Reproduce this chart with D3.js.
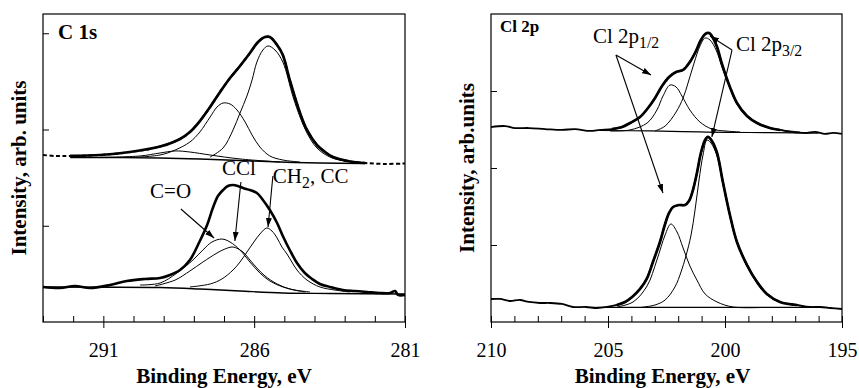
<!DOCTYPE html>
<html>
<head>
<meta charset="utf-8">
<script src="https://cdn.jsdelivr.net/npm/d3@7"></script>
<style>
  body { margin: 0; background: #fff; }
  svg text { font-family: "Liberation Serif", "Times New Roman", serif; fill: #000; }
</style>
</head>
<body>
<svg id="chart" width="859" height="388"></svg>
<script>
// ---- C 1s spectra: [binding energy (eV), intensity (arb. units)] ----
const c1sUpperMeasured = [
  [293.00,1.735],[292.60,1.725],[292.10,1.725],[291.11,1.735],[290.12,1.766],[289.12,1.823],
  [288.46,1.901],[288.13,1.974],[287.80,2.088],[287.46,2.234],[287.13,2.390],[286.80,2.535],
  [286.47,2.660],[286.14,2.795],[285.87,2.909],[285.64,2.961],[285.48,2.961],[285.24,2.878],
  [285.05,2.774],[284.82,2.514],[284.48,2.171],[284.25,1.995],[283.92,1.839],[283.65,1.766],
  [283.39,1.714],[282.82,1.668],[282.32,1.652],[281.66,1.642],[281.00,1.647]
];
const c1sUpperBackground = [
  [292.10,1.709],[289.12,1.704],[287.80,1.694],[286.47,1.678],[285.14,1.662],[283.82,1.652],[282.32,1.647]
];
const c1sUpperCO = [
  [291.11,1.712],[289.78,1.725],[289.12,1.756],[288.62,1.777],[288.13,1.766],[287.46,1.735],
  [286.47,1.694],[285.14,1.662]
];
const c1sUpperCCl = [
  [290.12,1.709],[289.12,1.735],[288.62,1.787],[288.13,1.870],[287.80,1.974],[287.46,2.130],
  [287.23,2.234],[287.03,2.275],[286.80,2.265],[286.57,2.203],[286.30,2.078],[286.07,1.943],
  [285.81,1.818],[285.48,1.725],[285.05,1.683],[284.48,1.662]
];
const c1sUpperCH2 = [
  [287.46,1.714],[287.03,1.808],[286.70,1.995],[286.47,2.171],[286.24,2.348],[286.07,2.514],
  [285.91,2.701],[285.71,2.826],[285.54,2.868],[285.31,2.826],[285.05,2.701],[284.71,2.338],
  [284.48,2.130],[284.25,1.964],[283.92,1.808],[283.49,1.714],[282.99,1.673],[282.32,1.652]
];

const c1sLowerMeasured = [
  [293.00,0.364],[292.44,0.353],[291.94,0.374],[291.44,0.353],[290.78,0.384],[290.22,0.426],
  [289.62,0.447],[289.12,0.457],[288.79,0.488],[288.46,0.540],[288.13,0.644],[287.80,0.842],
  [287.56,1.008],[287.37,1.184],[287.20,1.309],[287.03,1.371],[286.87,1.413],[286.70,1.423],
  [286.54,1.413],[286.37,1.392],[286.14,1.371],[285.91,1.340],[285.71,1.268],[285.48,1.164],
  [285.24,1.029],[285.05,0.894],[284.82,0.748],[284.58,0.613],[284.32,0.509],[284.08,0.447],
  [283.82,0.395],[283.49,0.364],[283.06,0.332],[282.66,0.322],[282.26,0.312],[281.83,0.301],
  [281.50,0.301],[281.33,0.322],[281.23,0.281],[281.00,0.281]
];
const c1sLowerBackground = [
  [293.00,0.364],[289.12,0.358],[287.80,0.343],[286.47,0.322],[285.05,0.301],[283.49,0.296],[281.00,0.291]
];
const c1sLowerCO = [
  [289.78,0.384],[289.12,0.405],[288.56,0.509],[288.03,0.644],[287.70,0.748],[287.40,0.831],
  [287.07,0.862],[286.80,0.831],[286.47,0.748],[286.14,0.623],[285.81,0.509],[285.48,0.426],
  [285.05,0.364],[284.65,0.332],[284.15,0.312]
];
const c1sLowerCCl = [
  [289.29,0.374],[288.62,0.436],[288.13,0.530],[287.70,0.623],[287.23,0.717],[286.97,0.758],
  [286.70,0.779],[286.37,0.727],[286.14,0.644],[285.91,0.561],[285.64,0.478],[285.24,0.395],
  [284.82,0.343],[284.32,0.312]
];
const c1sLowerCH2 = [
  [288.13,0.364],[287.46,0.395],[287.07,0.447],[286.70,0.540],[286.47,0.623],[286.24,0.727],
  [286.01,0.831],[285.81,0.914],[285.58,0.977],[285.41,0.945],[285.24,0.873],[285.08,0.779],
  [284.91,0.706],[284.75,0.623],[284.58,0.540],[284.25,0.436],[283.82,0.364],[283.32,0.332],
  [282.82,0.312]
];

// ---- Cl 2p spectra ----
const cl2pUpperMeasured = [
  [210.00,2.532],[209.40,2.545],[208.97,2.519],[208.38,2.519],[207.69,2.506],[206.97,2.494],
  [206.41,2.506],[205.77,2.481],[205.34,2.494],[204.83,2.506],[204.40,2.532],[204.06,2.584],
  [203.63,2.662],[203.29,2.779],[202.99,2.909],[202.69,3.065],[202.39,3.182],[202.09,3.247],
  [201.79,3.273],[201.50,3.377],[201.24,3.519],[201.03,3.662],[200.85,3.740],[200.68,3.753],
  [200.51,3.688],[200.34,3.571],[200.13,3.351],[199.79,3.052],[199.49,2.844],[199.06,2.675],
  [198.63,2.584],[198.08,2.519],[197.65,2.494],[197.22,2.468],[196.58,2.455],[196.15,2.468],
  [195.73,2.442],[195.38,2.455],[195.00,2.442]
];
const cl2pUpperBackground = [
  [205.34,2.487],[203.21,2.481],[201.07,2.468],[198.93,2.461],[196.79,2.455],[196.00,2.452]
];
const cl2pUpperP12 = [
  [204.91,2.481],[204.06,2.494],[203.33,2.584],[202.91,2.753],[202.65,2.935],[202.35,3.078],
  [202.09,3.052],[201.84,2.935],[201.50,2.753],[201.07,2.597],[200.56,2.506],[200.00,2.481],
  [199.36,2.468]
];
const cl2pUpperP32 = [
  [202.99,2.481],[202.56,2.545],[202.09,2.727],[201.79,2.909],[201.58,3.104],[201.32,3.364],
  [201.07,3.584],[200.85,3.688],[200.64,3.662],[200.38,3.532],[200.13,3.312],[199.79,3.039],
  [199.44,2.818],[199.02,2.662],[198.50,2.558],[197.86,2.506],[196.79,2.468]
];

const cl2pLowerMeasured = [
  [210.00,0.299],[209.62,0.299],[209.19,0.273],[208.76,0.286],[208.38,0.260],[207.91,0.247],
  [207.48,0.247],[206.97,0.234],[206.50,0.195],[205.94,0.195],[205.47,0.182],[205.04,0.195],
  [204.62,0.221],[204.27,0.260],[203.97,0.325],[203.63,0.429],[203.33,0.571],[203.08,0.779],
  [202.78,1.039],[202.56,1.273],[202.39,1.416],[202.22,1.494],[201.97,1.519],[201.71,1.519],
  [201.54,1.571],[201.37,1.714],[201.20,1.935],[201.03,2.195],[200.85,2.364],[200.73,2.403],
  [200.56,2.351],[200.34,2.195],[200.09,1.818],[199.79,1.390],[199.49,1.039],[199.06,0.740],
  [198.63,0.519],[198.21,0.364],[197.65,0.260],[196.92,0.221],[196.37,0.195],[195.94,0.195],
  [195.51,0.182],[195.00,0.169]
];
const cl2pLowerBackground = [[205.50,0.190],[195.60,0.190]];
const cl2pLowerP12 = [
  [204.62,0.195],[203.93,0.260],[203.33,0.468],[202.91,0.805],[202.56,1.130],[202.31,1.273],
  [202.05,1.169],[201.79,0.961],[201.50,0.727],[201.20,0.545],[200.85,0.364],[200.34,0.260],
  [199.66,0.195],[198.50,0.188]
];
const cl2pLowerP32 = [
  [203.63,0.188],[202.99,0.221],[202.56,0.286],[202.14,0.455],[201.88,0.649],[201.67,0.857],
  [201.45,1.130],[201.28,1.455],[201.11,1.844],[200.94,2.169],[200.77,2.364],[200.60,2.325],
  [200.34,2.156],[200.09,1.792],[199.79,1.377],[199.49,1.026],[199.06,0.727],[198.63,0.506],
  [198.21,0.351],[197.65,0.260],[196.79,0.208],[195.94,0.188]
];

// ---- axis ticks ----
const c1sMinorTicks = [293,292,291,290,289,288,287,286,285,284,283,282,281];
const c1sTickLabels = [291,286,281];
const cl2pMinorTicks = [210,209,208,207,206,205,204,203,202,201,200,199,198,197,196,195];
const cl2pTickLabels = [210,205,200,195];
const c1sIntensityTicks = [1,2,3];
const cl2pIntensityTicks = [1,2,3];

const svg = d3.select("#chart");

svg.append("defs").append("marker")
  .attr("id", "arrowhead")
  .attr("viewBox", "0 0 9 6")
  .attr("refX", 9).attr("refY", 3)
  .attr("markerWidth", 9).attr("markerHeight", 6)
  .attr("markerUnits", "userSpaceOnUse")
  .attr("orient", "auto")
  .append("path").attr("d", "M0,0L9,3L0,6Z").attr("fill", "#000");

function makePanel(cfg) {
  const x = d3.scaleLinear().domain(cfg.energy).range([cfg.left, cfg.right]);
  const y = d3.scaleLinear().domain(cfg.intensity).range([cfg.bottom, cfg.top]);
  const g = svg.append("g");

  // inward minor ticks along the energy axis
  g.append("g")
    .attr("transform", `translate(0,${cfg.bottom})`)
    .call(d3.axisBottom(x).tickValues(cfg.minor).tickSize(-6).tickFormat(""))
    .call(s => s.select(".domain").remove())
    .selectAll("line").attr("stroke", "#000");

  // labelled major ticks crossing the axis
  const major = g.append("g")
    .attr("transform", `translate(0,${cfg.bottom})`)
    .call(d3.axisBottom(x).tickValues(cfg.labels).tickSize(6).tickPadding(15).tickFormat(d3.format("d")));
  major.select(".domain").remove();
  major.attr("font-size", 20).attr("font-family", null);
  major.selectAll("line").attr("stroke", "#000");

  // intensity ticks (no labels)
  g.append("g")
    .attr("transform", `translate(${cfg.left},0)`)
    .call(d3.axisLeft(y).tickValues(cfg.yTicks).tickSize(-6).tickFormat(""))
    .call(s => s.select(".domain").remove())
    .selectAll("line").attr("stroke", "#000");

  // frame
  g.append("rect")
    .attr("x", cfg.left).attr("y", cfg.top)
    .attr("width", cfg.right - cfg.left).attr("height", cfg.bottom - cfg.top)
    .attr("fill", "none").attr("stroke", "#000").attr("stroke-width", 1.2);

  const line = d3.line()
    .x(d => x(d[0])).y(d => y(d[1]))
    .curve(d3.curveCatmullRom.alpha(0.5));

  g.append("text")
    .attr("x", x.range()[0] + (x.range()[1] - x.range()[0]) / 2 + cfg.titleShift)
    .attr("y", 383)
    .attr("text-anchor", "middle")
    .attr("font-size", 21).attr("font-weight", "bold")
    .text("Binding Energy, eV");

  g.append("text")
    .attr("transform", `translate(${cfg.yTitleX},${(cfg.top + cfg.bottom) / 2}) rotate(-90)`)
    .attr("text-anchor", "middle")
    .attr("font-size", 21).attr("font-weight", "bold")
    .text(cfg.yTitle);

  return { g, x, y, line };
}

function curve(p, data, width, dash) {
  p.g.append("path")
    .datum(data)
    .attr("d", p.line)
    .attr("fill", "none")
    .attr("stroke", "#000")
    .attr("stroke-width", width)
    .attr("stroke-linejoin", "round")
    .attr("stroke-dasharray", dash || null);
}

function arrow(p, from, to) {
  p.g.append("line")
    .attr("x1", p.x(from[0])).attr("y1", p.y(from[1]))
    .attr("x2", p.x(to[0])).attr("y2", p.y(to[1]))
    .attr("stroke", "#000").attr("stroke-width", 1.1)
    .attr("marker-end", "url(#arrowhead)");
}

function label(p, at, parts, size, bold) {
  const t = p.g.append("text")
    .attr("x", p.x(at[0])).attr("y", p.y(at[1]))
    .attr("font-size", size)
    .attr("font-weight", bold ? "bold" : null);
  parts.forEach(([str, sub]) => {
    t.append("tspan")
      .attr("font-size", sub ? size * 0.75 : size)
      .attr("dy", sub ? 5 : (t.node().childNodes.length ? -5 : 0))
      .text(str);
  });
}

// ---------------- C 1s ----------------
const c1s = makePanel({
  energy: [293, 281], intensity: [0, 3.2],
  left: 43, right: 405, top: 14, bottom: 322,
  minor: c1sMinorTicks, labels: c1sTickLabels, yTicks: c1sIntensityTicks,
  yTitle: "Intensity, arb. units", yTitleX: 26, titleShift: 0
});

// upper spectrum: data outside the fitted window shown dashed
curve(c1s, c1sUpperMeasured, 2, "4,2.5");
curve(c1s, c1sUpperMeasured.filter(d => d[0] <= 292.1 && d[0] >= 282.3), 2.7);
curve(c1s, c1sUpperBackground, 1.4);
curve(c1s, c1sUpperCO, 1);
curve(c1s, c1sUpperCCl, 1);
curve(c1s, c1sUpperCH2, 1);

// lower spectrum
curve(c1s, c1sLowerMeasured, 2.6);
curve(c1s, c1sLowerBackground, 1.4);
curve(c1s, c1sLowerCO, 1);
curve(c1s, c1sLowerCCl, 1);
curve(c1s, c1sLowerCH2, 1);

label(c1s, [292.5, 2.888], [["C 1s"]], 21, true);
label(c1s, [289.45, 1.236], [["C=O"]], 21, false);
arrow(c1s, [288.43, 1.174], [287.33, 0.873]);
label(c1s, [287.07, 1.475], [["CCl"]], 21, false);
arrow(c1s, [286.44, 1.455], [286.64, 0.842]);
label(c1s, [285.38, 1.392], [["CH"], ["2", true], [", CC"]], 21, false);
arrow(c1s, [285.38, 1.517], [285.54, 0.987]);

// ---------------- Cl 2p ----------------
const cl2p = makePanel({
  energy: [210, 195], intensity: [0, 4],
  left: 491, right: 842, top: 14, bottom: 322,
  minor: cl2pMinorTicks, labels: cl2pTickLabels, yTicks: cl2pIntensityTicks,
  yTitle: "Intensity, arb.units", yTitleX: 474, titleShift: -4
});

curve(cl2p, cl2pUpperMeasured, 1.8);
curve(cl2p, cl2pUpperMeasured.filter(d => d[0] <= 205 && d[0] >= 197.5), 2.7);
curve(cl2p, cl2pUpperBackground, 1.2);
curve(cl2p, cl2pUpperP12, 1);
curve(cl2p, cl2pUpperP32, 1);

curve(cl2p, cl2pLowerMeasured, 1.8);
curve(cl2p, cl2pLowerMeasured.filter(d => d[0] <= 205 && d[0] >= 196.5), 2.7);
curve(cl2p, cl2pLowerBackground, 1.2);
curve(cl2p, cl2pLowerP12, 1);
curve(cl2p, cl2pLowerP32, 1);

label(cl2p, [209.62, 3.701], [["Cl 2p"]], 17, true);
label(cl2p, [205.64, 3.558], [["Cl 2p"], ["1/2", true]], 21, false);
arrow(cl2p, [204.66, 3.468], [203.16, 3.208]);
arrow(cl2p, [204.66, 3.468], [202.65, 1.675]);
label(cl2p, [199.53, 3.455], [["Cl 2p"], ["3/2", true]], 21, false);
arrow(cl2p, [199.70, 3.532], [200.64, 3.714]);
arrow(cl2p, [199.70, 3.532], [200.56, 2.403]);
</script>
</body>
</html>
